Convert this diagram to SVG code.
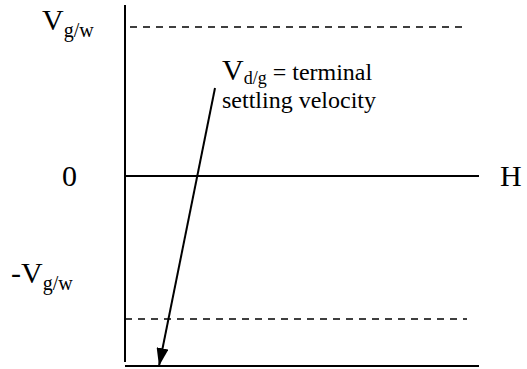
<svg xmlns="http://www.w3.org/2000/svg" width="527" height="369" viewBox="0 0 527 369">
<style>
text{font-family:"Liberation Serif","Times New Roman",serif;fill:#000;font-size:24px}
.big{font-size:30px}
.sub{font-size:20px}
.sub2{font-size:18px}
.ax{stroke:#000;stroke-width:2;fill:none}
.dash{stroke:#000;stroke-width:1.5;stroke-dasharray:7 6;fill:none}
</style>
<defs>
<marker id="ah2" viewBox="0 0 18 12" refX="18" refY="6" markerWidth="18" markerHeight="12" markerUnits="userSpaceOnUse" orient="auto">
<path d="M0,0 L18,6 L0,12 z" fill="#000"/>
</marker>
</defs>
<g id="axes">
<line class="ax" x1="125" y1="5" x2="125" y2="362"/>
<line class="ax" x1="125" y1="176" x2="479" y2="176"/>
<line class="ax" x1="125" y1="366" x2="479" y2="366"/>
<line class="dash" x1="130" y1="27" x2="462" y2="27"/>
<line class="dash" x1="125" y1="319" x2="467" y2="319"/>
</g>
<g id="labels">
<text class="big" x="42" y="30">V<tspan class="sub" dy="7">g/w</tspan></text>
<text class="big" x="62" y="186">0</text>
<text class="big" x="500" y="186">H</text>
<text class="big" x="11" y="283">-V<tspan class="sub" dy="7">g/w</tspan></text>
</g>
<g id="annotation">
<text x="222" y="80"><tspan class="big">V</tspan><tspan class="sub2" dy="4">d/g</tspan><tspan dy="-4"> = terminal</tspan></text>
<text x="222" y="108">settling velocity</text>
</g>
<g id="connectors">
<line class="ax" x1="215" y1="88" x2="159" y2="366" marker-end="url(#ah2)"/>
</g>
</svg>
